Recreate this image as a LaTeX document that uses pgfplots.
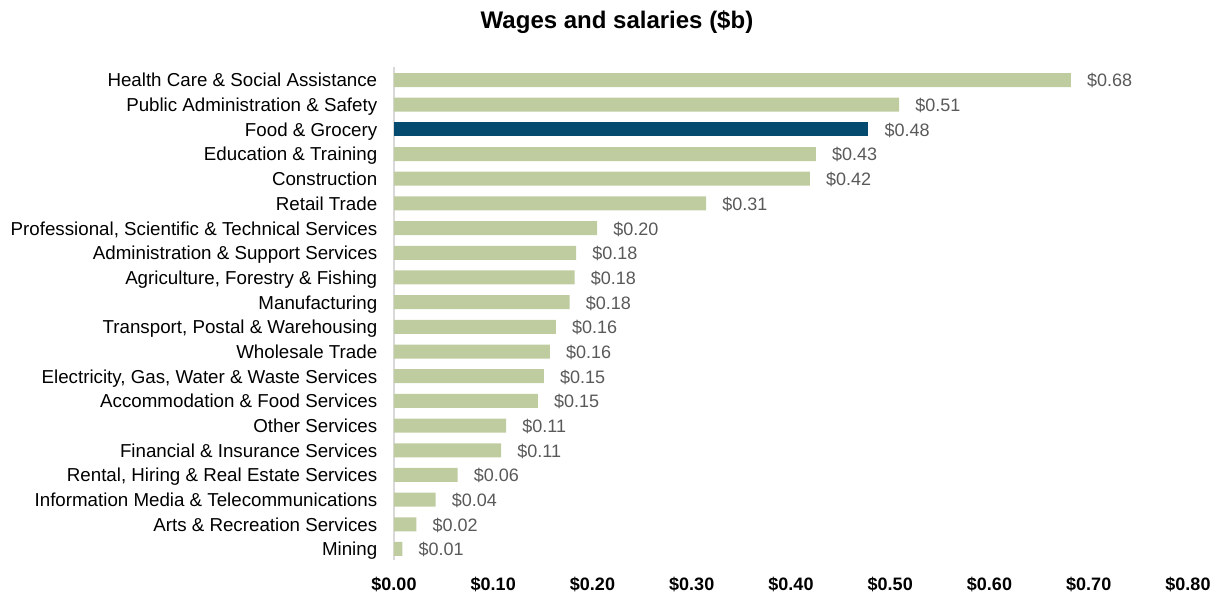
\documentclass[border=0pt]{standalone}
\usepackage{fontspec}
\setmainfont{Liberation Sans}
\usepackage{pgfplots}
\pgfplotsset{compat=1.18}
\definecolor{barGreen}{HTML}{BECCA0}
\definecolor{barNavy}{HTML}{054B70}
\definecolor{lblGray}{HTML}{595959}
\definecolor{axGray}{HTML}{D9D9D9}
\newcommand{\lblfont}{\fontsize{13.5}{16}\selectfont}
\newcommand{\catfont}{\fontsize{14.05}{16}\selectfont}
\begin{document}
\begin{tikzpicture}
  % page = 1217 x 594 px at 0.75pt per px, origin at axis lower left
  \path[use as bounding box] (-295.5pt,-25.5pt) rectangle (617.25pt,420pt);
\begin{axis}[
    at={(0,0)}, anchor=south west,
    scale only axis, width=595.5pt, height=369.75pt,
    xmin=0, xmax=0.8, ymin=-0.446, ymax=19.527,
    xbar, bar width=0.567, bar shift=0pt,
    axis x line*=bottom, axis y line*=left,
    x axis line style={draw=none},
    y axis line style={draw=axGray, line width=1.5pt},
    major tick length=0pt,
    xtick={0,0.1,...,0.8},
    xticklabels={\$0.00,\$0.10,\$0.20,\$0.30,\$0.40,\$0.50,\$0.60,\$0.70,\$0.80},
    xticklabel style={font=\lblfont\bfseries, anchor=center, inner sep=0pt, yshift=-18.4pt},
    ytick={0,...,19},
    yticklabels={Mining, Arts \& Recreation Services, Information Media \& Telecommunications,
      {Rental, Hiring \& Real Estate Services}, Financial \& Insurance Services, Other Services,
      Accommodation \& Food Services, {Electricity, Gas, Water \& Waste Services}, Wholesale Trade,
      {Transport, Postal \& Warehousing}, Manufacturing, {Agriculture, Forestry \& Fishing},
      Administration \& Support Services, {Professional, Scientific \& Technical Services},
      Retail Trade, Construction, Education \& Training, Food \& Grocery,
      Public Administration \& Safety, Health Care \& Social Assistance},
    yticklabel style={font=\catfont, anchor=base east, inner sep=0pt, xshift=-12.4pt, yshift=-0.36em-1.6pt},
    point meta=explicit symbolic,
    nodes near coords,
    every node near coord/.append style={font=\lblfont, color=lblGray, anchor=base west, inner sep=0pt, xshift=12pt, yshift=-0.36em-1.6pt},
  ]
\addplot[fill=barGreen, draw=none] coordinates {
  (0.0084,0) [\$0.01]
  (0.0225,1) [\$0.02]
  (0.042,2) [\$0.04]
  (0.064,3) [\$0.06]
  (0.108,4) [\$0.11]
  (0.113,5) [\$0.11]
  (0.145,6) [\$0.15]
  (0.151,7) [\$0.15]
  (0.157,8) [\$0.16]
  (0.163,9) [\$0.16]
  (0.177,10) [\$0.18]
  (0.182,11) [\$0.18]
  (0.1835,12) [\$0.18]
  (0.2046,13) [\$0.20]
  (0.3145,14) [\$0.31]
  (0.419,15) [\$0.42]
  (0.425,16) [\$0.43]
  (0.509,18) [\$0.51]
  (0.682,19) [\$0.68]
};
\addplot[fill=barNavy, draw=none] coordinates {
  (0.478,17) [\$0.48]
};
\end{axis}
\node[font=\fontsize{18}{22}\selectfont\bfseries] at (167.25pt,403.5pt) {Wages and salaries (\$b)};
\end{tikzpicture}
\end{document}
